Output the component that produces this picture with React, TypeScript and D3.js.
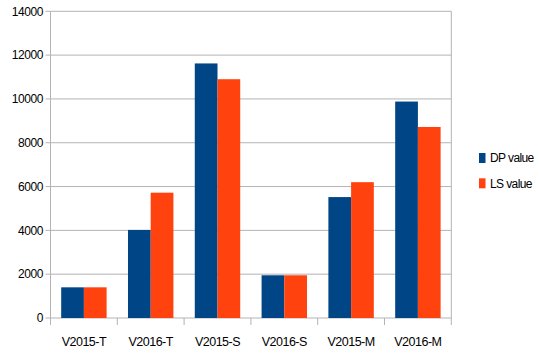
import React from "react";
import * as d3 from "d3";

const categories = ["V2015-T", "V2016-T", "V2015-S", "V2016-S", "V2015-M", "V2016-M"];
const dpValues = [1400, 4020, 11620, 1950, 5520, 9880];
const lsValues = [1400, 5720, 10900, 1950, 6200, 8720];
const seriesNames = ["DP value", "LS value"];
const seriesColors = ["#004586", "#ff420e"];
const yTicks = [0, 2000, 4000, 6000, 8000, 10000, 12000, 14000];

const W = 539;
const H = 354;
const left = 50.5;
const right = 451.3;
const top = 11.3;
const bottom = 318;

export default function App() {
  const x = d3.scaleBand<string>().domain(categories).range([left, right]).paddingInner(0).paddingOuter(0);
  const inner = d3.scaleBand<number>().domain([0, 1]).range([0, x.bandwidth()]).paddingInner(0).paddingOuter(0.16 / 0.68 * 0.68);
  const y = d3.scaleLinear().domain([0, 14000]).range([bottom, top]);
  const font = "'Liberation Sans', Arial, sans-serif";
  const series = [dpValues, lsValues];
  const bw = x.bandwidth();
  const groupW = bw * 0.68;
  const barW = groupW / 2;
  const off = (bw - groupW) / 2;

  return (
    <svg width={W} height={H} style={{ position: "absolute", left: 0, top: 0 }}>
      <rect width={W} height={H} fill="#fff" />
      {yTicks.map((t) => (
        <g key={t}>
          <line x1={left - 5} x2={right} y1={y(t)} y2={y(t)} stroke="#b3b3b3" strokeWidth={1} />
          <text x={43} y={y(t)} dy="0.35em" textAnchor="end" fontFamily={font} fontSize={12} fill="#000" letterSpacing={-0.4}>
            {t}
          </text>
        </g>
      ))}
      <line x1={left} x2={left} y1={top} y2={bottom + 7} stroke="#b3b3b3" />
      <line x1={right} x2={right} y1={top} y2={bottom + 7} stroke="#b3b3b3" />
      {categories.map((c, i) => (
        <line key={c} x1={x(c)!} x2={x(c)!} y1={bottom} y2={bottom + 7} stroke="#b3b3b3" />
      ))}
      {categories.map((c, i) =>
        series.map((vals, s) => (
          <rect
            key={c + s}
            x={x(c)! + off + s * barW}
            y={y(vals[i])}
            width={barW}
            height={y(0) - y(vals[i])}
            fill={seriesColors[s]}
          />
        ))
      )}
      {categories.map((c) => (
        <text key={c} x={x(c)! + bw / 2} y={346} textAnchor="middle" fontFamily={font} fontSize={12.5} fill="#000" letterSpacing={-0.5}>
          {c}
        </text>
      ))}
      {seriesNames.map((n, s) => (
        <g key={n} transform={`translate(479, ${153 + s * 25.3})`}>
          <rect width={6.5} height={10} fill={seriesColors[s]} />
          <text x={11} y={5} dy="0.35em" fontFamily={font} fontSize={12} fill="#000" letterSpacing={-0.6}>
            {n}
          </text>
        </g>
      ))}
    </svg>
  );
}
